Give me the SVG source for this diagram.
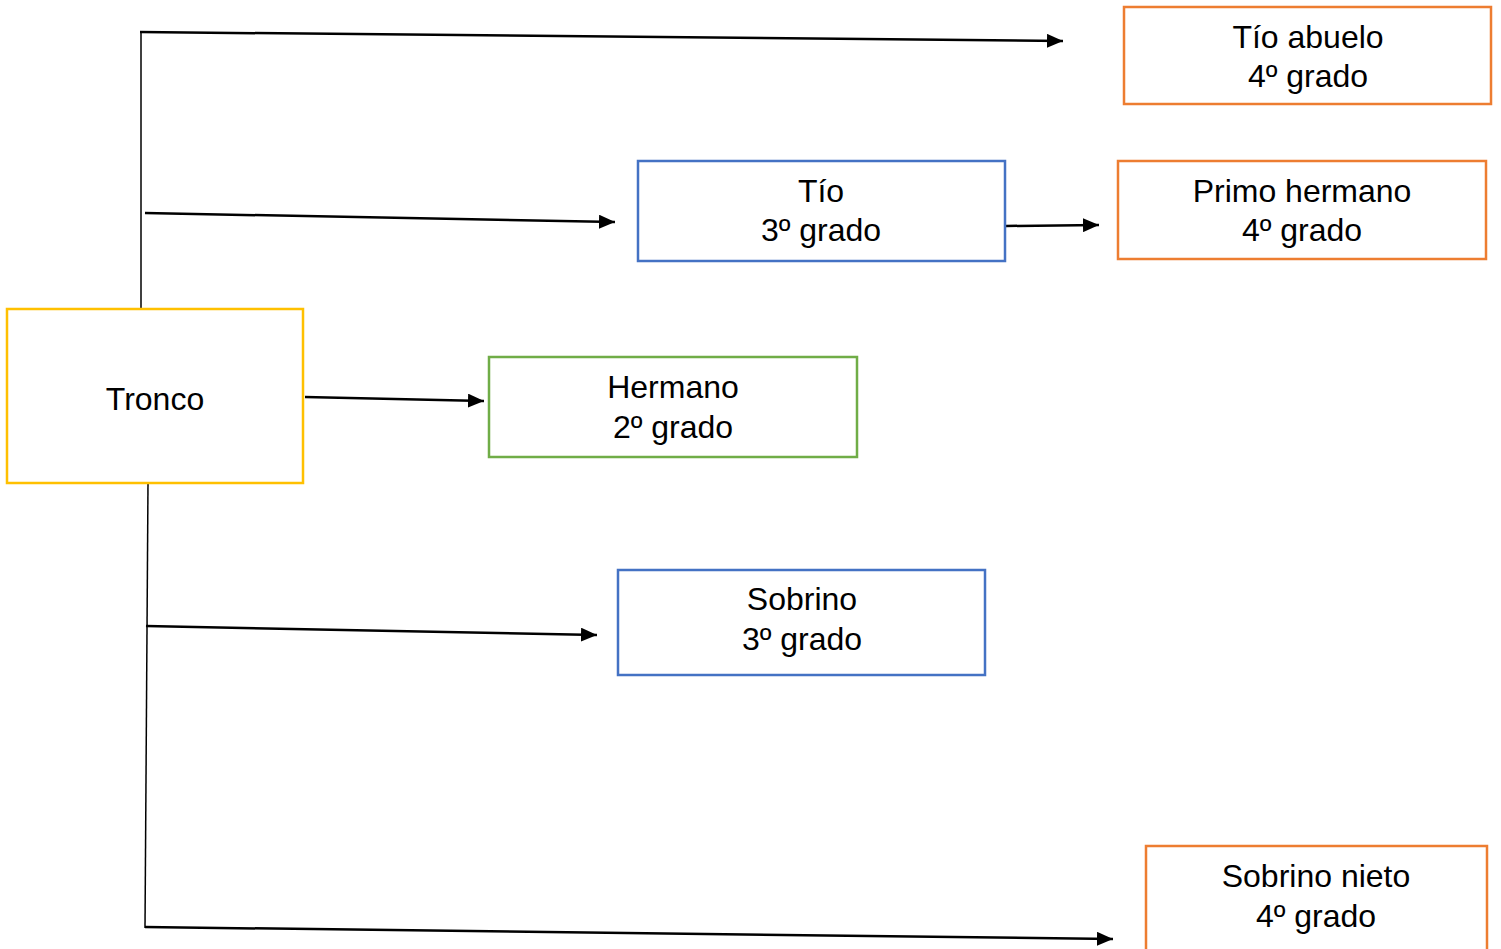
<svg xmlns="http://www.w3.org/2000/svg" width="1501" height="949" viewBox="0 0 1501 949">
<style>
.box{fill:#fff;stroke-width:2.5}
.y{stroke:#FFC000}.o{stroke:#ED7D31}.b{stroke:#4472C4}.g{stroke:#70AD47}
text{font-family:"Liberation Sans",Arial,sans-serif;font-size:32px;fill:#000;text-anchor:middle}
.c{stroke:#000;fill:none}
.a{stroke-width:2.5}
.v{stroke-width:1.5}
</style>
<defs>
<marker id="ah" markerUnits="userSpaceOnUse" markerWidth="16" markerHeight="14" refX="16" refY="7" orient="auto">
<path d="M0,0 L16,7 L0,14 Z" fill="#000"/>
</marker>
</defs>
<rect width="1501" height="949" fill="#fff"/>
<g id="connectors">
<line class="c v" x1="141" y1="32" x2="141" y2="313"/>
<line class="c a" x1="140" y1="32" x2="1063" y2="41" marker-end="url(#ah)"/>
<line class="c a" x1="145" y1="213" x2="615" y2="222" marker-end="url(#ah)"/>
<line class="c a" x1="1006" y1="226" x2="1099" y2="225" marker-end="url(#ah)"/>
<line class="c a" x1="305" y1="397" x2="484" y2="401" marker-end="url(#ah)"/>
<line class="c v" x1="148" y1="483" x2="145" y2="928"/>
<line class="c a" x1="146" y1="626" x2="597" y2="635" marker-end="url(#ah)"/>
<line class="c a" x1="145" y1="927" x2="1113" y2="939" marker-end="url(#ah)"/>
</g>
<g id="tronco">
<rect class="box y" x="7" y="309" width="296" height="174"/>
<text x="155" y="410">Tronco</text>
</g>
<g id="tio-abuelo">
<rect class="box o" x="1124" y="7" width="367" height="97"/>
<text x="1308" y="48">Tío abuelo</text>
<text x="1308" y="87">4º grado</text>
</g>
<g id="tio">
<rect class="box b" x="638" y="161" width="367" height="100"/>
<text x="821" y="202">Tío</text>
<text x="821" y="241">3º grado</text>
</g>
<g id="primo-hermano">
<rect class="box o" x="1118" y="161" width="368" height="98"/>
<text x="1302" y="202">Primo hermano</text>
<text x="1302" y="241">4º grado</text>
</g>
<g id="hermano">
<rect class="box g" x="489" y="357" width="368" height="100"/>
<text x="673" y="398">Hermano</text>
<text x="673" y="438">2º grado</text>
</g>
<g id="sobrino">
<rect class="box b" x="618" y="570" width="367" height="105"/>
<text x="802" y="610">Sobrino</text>
<text x="802" y="650">3º grado</text>
</g>
<g id="sobrino-nieto">
<rect class="box o" x="1146" y="846" width="341" height="120"/>
<text x="1316" y="887">Sobrino nieto</text>
<text x="1316" y="927">4º grado</text>
</g>
</svg>
